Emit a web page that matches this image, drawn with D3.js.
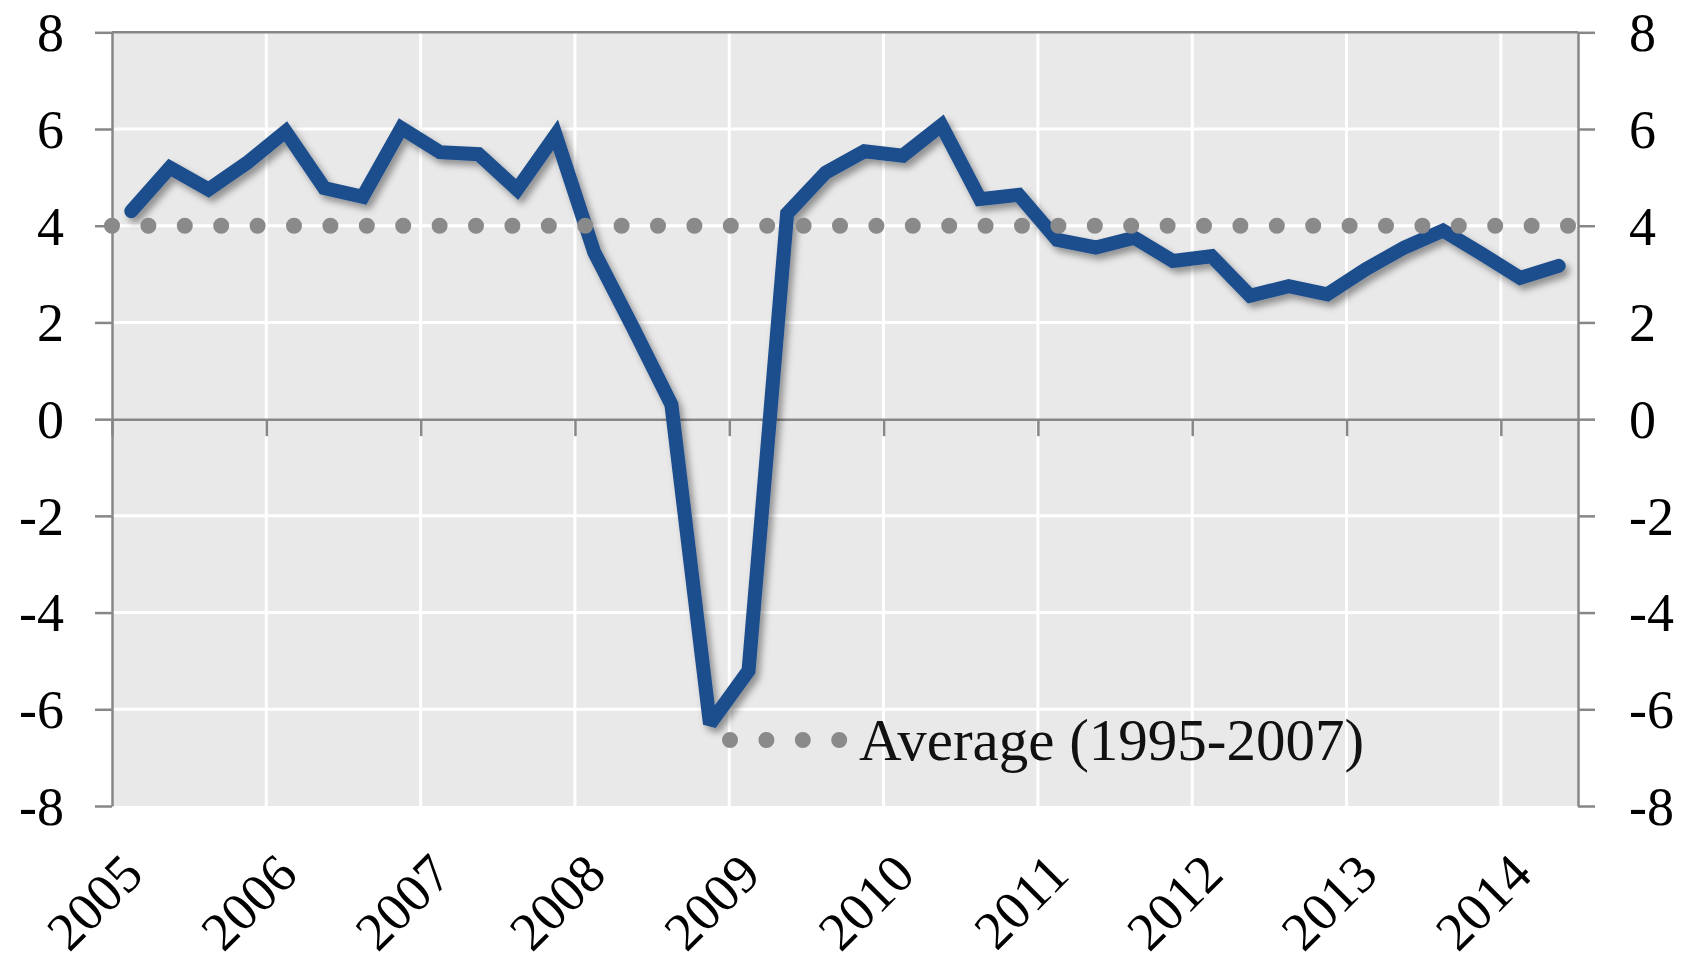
<!DOCTYPE html>
<html><head><meta charset="utf-8">
<script src="https://cdn.jsdelivr.net/npm/d3@7"></script>
<style>body{margin:0;background:#fff}</style>
</head><body>
<svg id="chart" width="1692" height="962"></svg>
<script>
// ---- data ----
const quarters = [
  "2005Q1","2005Q2","2005Q3","2005Q4","2006Q1","2006Q2","2006Q3","2006Q4",
  "2007Q1","2007Q2","2007Q3","2007Q4","2008Q1","2008Q2","2008Q3","2008Q4",
  "2009Q1","2009Q2","2009Q3","2009Q4","2010Q1","2010Q2","2010Q3","2010Q4",
  "2011Q1","2011Q2","2011Q3","2011Q4","2012Q1","2012Q2","2012Q3","2012Q4",
  "2013Q1","2013Q2","2013Q3","2013Q4","2014Q1","2014Q2"];
const growth = [
  4.30, 5.20, 4.75, 5.30, 5.95, 4.78, 4.60, 6.02,
  5.52, 5.48, 4.75, 5.88, 3.45, 1.90, 0.30, -6.30,
  -5.20, 4.25, 5.10, 5.54, 5.45, 6.08, 4.55, 4.64,
  3.71, 3.55, 3.75, 3.27, 3.37, 2.55, 2.75, 2.58,
  3.10, 3.55, 3.90, 3.42, 2.92, 3.17];
const years = [2005,2006,2007,2008,2009,2010,2011,2012,2013,2014];
const yTicks = [-8,-6,-4,-2,0,2,4,6,8];
const averageValue = 4;
const averageLabel = "Average (1995-2007)";

// ---- layout ----
const L = 112, R = 1578, T = 32.3, B = 806;
const svg = d3.select("#chart");
const FONT = "'Liberation Serif', 'Times New Roman', serif";
const AXIS = "#878787";
const fmt = d => String(d);

const x = d3.scaleBand().domain(quarters).range([L, R]).padding(0);
const xYear = d3.scaleLinear().domain([2005, 2014.5]).range([L, R]);
const y = d3.scaleLinear().domain([-8, 8]).range([B, T]);

const defs = svg.append("defs");
const f = defs.append("filter").attr("id","shadow").attr("x","-10%").attr("y","-10%").attr("width","120%").attr("height","120%");
f.append("feDropShadow").attr("dx",4).attr("dy",5).attr("stdDeviation",3.5)
  .attr("flood-color","#000").attr("flood-opacity",0.38);

// background
svg.append("rect").attr("x",L).attr("y",T).attr("width",R-L).attr("height",B-T).attr("fill","#e9e9e9");

// gridlines
svg.append("g").selectAll("line").data(yTicks.filter(v => v !== 0 && v !== 8 && v !== -8)).join("line")
  .attr("x1",L).attr("x2",R).attr("y1",d=>y(d)).attr("y2",d=>y(d))
  .attr("stroke","#fff").attr("stroke-width",3);
svg.append("g").selectAll("line").data(years.slice(1)).join("line")
  .attr("x1",d=>xYear(d)).attr("x2",d=>xYear(d)).attr("y1",T).attr("y2",B)
  .attr("stroke","#fff").attr("stroke-width",3);

// top border
svg.append("line").attr("x1",L).attr("x2",R).attr("y1",y(8)).attr("y2",y(8))
  .attr("stroke",AXIS).attr("stroke-width",2.5);

function styleAxis(g){
  g.selectAll(".domain").attr("stroke",AXIS).attr("stroke-width",2.5);
  g.selectAll(".tick line").attr("stroke",AXIS).attr("stroke-width",2.5);
  g.selectAll("text").attr("font-family",FONT).attr("font-size",54).attr("fill","#000");
}

// left axis
const gl = svg.append("g").attr("transform",`translate(${L},0)`)
  .call(d3.axisLeft(y).tickValues(yTicks).tickSize(17).tickSizeOuter(0).tickPadding(31).tickFormat(fmt));
styleAxis(gl);
gl.selectAll("text").attr("dy","0.34em");

// right axis
const gr = svg.append("g").attr("transform",`translate(${R},0)`)
  .call(d3.axisRight(y).tickValues(yTicks).tickSize(17).tickSizeOuter(0).tickPadding(34).tickFormat(fmt));
styleAxis(gr);
gr.selectAll("text").attr("dy","0.34em");

// zero axis with year ticks
const gz = svg.append("g").attr("transform",`translate(0,${y(0)})`)
  .call(d3.axisBottom(xYear).tickValues(years).tickSize(17).tickSizeOuter(0).tickFormat(""));
styleAxis(gz);

// year labels
const gx = svg.append("g").attr("transform",`translate(0,${B})`)
  .call(d3.axisBottom(xYear).tickValues(years).tickSize(0).tickFormat(fmt));
gx.select(".domain").remove();
gx.selectAll("text").attr("font-family",FONT).attr("font-size",54).attr("fill","#000")
  .attr("x",0).attr("y",0).attr("dy",0).attr("text-anchor","end")
  .attr("transform","translate(33,71) rotate(-45)");

// series line
const data = quarters.map((q,i)=>({q, v: growth[i]}));
const line = d3.line().x(d=>x(d.q)+x.bandwidth()/2).y(d=>y(d.v));
svg.append("path").datum(data).attr("d",line)
  .attr("fill","none").attr("stroke","#1f4e8d").attr("stroke-width",14)
  .attr("stroke-linejoin","miter").attr("stroke-miterlimit",2.6).attr("stroke-linecap","round")
  .attr("filter","url(#shadow)");

// average dotted line
svg.append("line").attr("x1",xYear(2005)).attr("x2",xYear(2014.5)).attr("y1",y(averageValue)).attr("y2",y(averageValue))
  .attr("stroke","#8a8a8a").attr("stroke-width",16).attr("stroke-linecap","round")
  .attr("stroke-dasharray","0 36.4");

// legend
svg.append("line").attr("x1",730).attr("x2",841).attr("y1",740).attr("y2",740)
  .attr("stroke","#8a8a8a").attr("stroke-width",16).attr("stroke-linecap","round")
  .attr("stroke-dasharray","0 36.4");
svg.append("text").attr("x",859).attr("y",760).attr("font-family",FONT).attr("font-size",59)
  .attr("fill","#111").text(averageLabel);
</script>
</body></html>
